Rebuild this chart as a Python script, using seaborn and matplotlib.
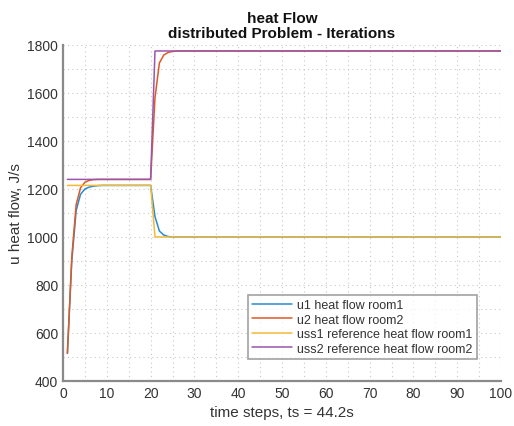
import matplotlib
matplotlib.use("Agg")
import matplotlib.pyplot as plt
import seaborn as sns
import pandas as pd
import numpy as np

# time steps 1..100
steps = list(range(1, 101))

# controller output, room 1
u1 = ([515, 900, 1110, 1178, 1200, 1208, 1212, 1214] + [1215] * 12
      + [1085, 1025, 1008, 1002] + [1000] * 76)
# controller output, room 2
u2 = ([515, 915, 1135, 1205, 1228, 1236, 1239] + [1240] * 13
      + [1580, 1725, 1758, 1769, 1773] + [1775] * 75)
# steady-state references
uss1 = [1215] * 20 + [1000] * 80
uss2 = [1240] * 20 + [1775] * 80

series_names = ["u1 heat flow room1", "u2 heat flow room2",
                "uss1 reference heat flow room1", "uss2 reference heat flow room2"]
series_values = [u1, u2, uss1, uss2]
series_colors = ["#2a8ad0", "#dc5a26", "#f2ba38", "#9a56ad"]

df = pd.concat(
    [pd.DataFrame({"step": steps, "value": v, "series": n})
     for n, v in zip(series_names, series_values)],
    ignore_index=True,
)

sns.set_style("white")
plt.rcParams["font.family"] = ["Liberation Sans", "DejaVu Sans"]

fig = plt.figure(figsize=(5.14, 4.27), dpi=100)
ax = fig.add_axes([0.1226, 0.1054, 0.8521, 0.7869])

sns.lineplot(data=df, x="step", y="value", hue="series",
             palette=series_colors, hue_order=series_names,
             linewidth=1.1, ax=ax, legend=True)

ax.set_xlim(0, 100)
ax.set_ylim(400, 1800)
ax.set_xticks(np.arange(0, 101, 10))
ax.set_yticks(np.arange(400, 1801, 200))
ax.set_xticks(np.arange(0, 101, 5), minor=True)
ax.set_yticks(np.arange(400, 1801, 100), minor=True)

grid_kw = dict(color="#c8c8c8", linestyle=(0, (1, 3)), linewidth=0.8)
ax.grid(True, which="major", **grid_kw)
ax.grid(True, which="minor", **grid_kw)
ax.set_axisbelow(True)

for side in ("top", "right"):
    ax.spines[side].set_visible(False)
for side in ("left", "bottom"):
    ax.spines[side].set_color("#8a8a8a")
    ax.spines[side].set_linewidth(1.6)

ax.tick_params(which="major", direction="in", length=4, width=1.0,
               color="#8a8a8a", labelsize=10, labelcolor="#333333")
ax.tick_params(which="minor", length=0)

ax.set_xlabel("time steps, ts = 44.2s", fontsize=11, color="#333333")
ax.set_ylabel("u heat flow, J/s", fontsize=11, color="#333333", labelpad=3)
ax.set_title("heat Flow\ndistributed Problem - Iterations",
             fontsize=11, fontweight="bold", color="#111111", pad=6,
             linespacing=1.05)

leg = ax.legend(loc="lower right", bbox_to_anchor=(0.945, 0.065),
                fontsize=9, frameon=True, fancybox=False,
                borderpad=0.35, labelspacing=0.2, handlelength=3.2,
                handletextpad=0.4, borderaxespad=0)
leg.get_frame().set_edgecolor("#8a8a8a")
leg.get_frame().set_linewidth(1.2)
for txt in leg.get_texts():
    txt.set_color("#333333")

fig.savefig("out.png", dpi=100, facecolor="white")
